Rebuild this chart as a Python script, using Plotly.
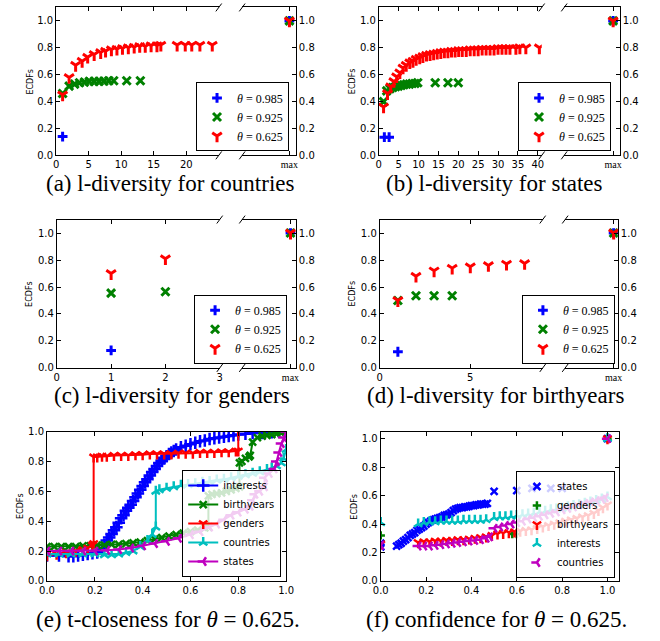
import plotly.graph_objects as go

# ---------------- data ----------------
theta_labels = ['0.985', '0.925', '0.625']
max_cat = ['max']
max_y = [1.0]
yticks = [0.0, 0.2, 0.4, 0.6, 0.8, 1.0]

# (a) l-diversity for countries
a_985_x = [1]
a_985_y = [0.14]
a_925_x = [1, 2, 2.85, 3.6, 4.35, 5.1, 5.85, 6.6, 7.35, 8.1, 8.85, 10.85, 12.95]
a_925_y = [0.46, 0.515, 0.53, 0.54, 0.545, 0.55, 0.55, 0.55, 0.552, 0.555, 0.555, 0.555, 0.555]
a_625_x = [1, 2, 3, 4, 4.85, 5.85, 6.85, 7.6, 8.5, 9.35, 10.2, 11.1, 12, 12.85, 13.7, 14.6,
           15.5, 16.1, 18.6, 19.85, 20.85, 22.1, 24]
a_625_y = [0.45, 0.58, 0.67, 0.70, 0.73, 0.75, 0.765, 0.775, 0.785, 0.79, 0.795, 0.80, 0.805,
           0.81, 0.81, 0.815, 0.815, 0.82, 0.82, 0.82, 0.82, 0.82, 0.82]

# (b) l-diversity for states
b_985_x = [1.4, 2.6]
b_985_y = [0.135, 0.135]
b_925_x = [1.2, 2.0, 2.8, 3.5, 4.2, 4.9, 5.6, 6.3, 7.0, 7.7, 8.4, 9.1, 9.8, 14.2, 17.4, 20.0]
b_925_y = [0.40, 0.48, 0.495, 0.505, 0.51, 0.515, 0.52, 0.525, 0.53, 0.53, 0.535, 0.535, 0.54,
           0.54, 0.54, 0.54]
b_625_x = [1.2, 2.2, 3.0, 3.8, 4.5, 5.3, 6.1, 6.9, 7.8, 8.6, 9.4, 10.3, 11.1, 12.0, 12.9, 13.8,
           14.7, 15.6, 16.5, 17.4, 18.3, 19.2, 20.1, 21.0, 22.0, 23.0, 24.0, 25.0, 26.0, 27.0,
           28.0, 29.0, 30.0, 31.0, 32.0, 33.0, 34.5, 35.5, 37.0, 40.4]
b_625_y = [0.36, 0.46, 0.51, 0.55, 0.585, 0.615, 0.65, 0.67, 0.69, 0.70, 0.715, 0.725, 0.735,
           0.745, 0.75, 0.755, 0.76, 0.765, 0.77, 0.77, 0.775, 0.775, 0.78, 0.78, 0.78, 0.785,
           0.785, 0.785, 0.79, 0.79, 0.79, 0.79, 0.795, 0.795, 0.795, 0.795, 0.795, 0.80, 0.80, 0.80]

# (c) l-diversity for genders
c_985_x = [1]
c_985_y = [0.13]
c_925_x = [1, 2]
c_925_y = [0.555, 0.565]
c_625_x = [1, 2]
c_625_y = [0.70, 0.81]

# (d) l-diversity for birthyears
d_985_x = [1]
d_985_y = [0.12]
d_925_x = [1, 2, 3, 4]
d_925_y = [0.50, 0.535, 0.535, 0.535]
d_625_x = [1, 2, 3, 4, 5, 6, 7, 8]
d_625_y = [0.50, 0.68, 0.72, 0.74, 0.75, 0.76, 0.77, 0.775]

# (e) t-closeness for theta = 0.625
e_names = ['interests', 'birthyears', 'genders', 'countries', 'states']
e_int_x = [0.00, 0.05, 0.09, 0.11, 0.13, 0.15, 0.17, 0.19, 0.21, 0.23,
           0.24, 0.25, 0.26, 0.27, 0.28, 0.29, 0.30, 0.31, 0.32, 0.33, 0.34, 0.35, 0.36, 0.37,
           0.38, 0.39, 0.40, 0.41, 0.42, 0.43, 0.44, 0.45, 0.46, 0.47, 0.48, 0.49, 0.50, 0.51,
           0.52, 0.53, 0.54, 0.56, 0.58, 0.60, 0.62, 0.64, 0.66, 0.68, 0.70, 0.72, 0.74, 0.76,
           0.78, 0.80, 0.83, 0.86, 0.90, 0.94, 0.97, 1.00]
e_int_y = [0.17, 0.17, 0.165, 0.165, 0.17, 0.175, 0.18, 0.185, 0.19, 0.21,
           0.24, 0.27, 0.29, 0.315, 0.34, 0.36, 0.39, 0.42, 0.44, 0.47, 0.49, 0.51, 0.535, 0.56,
           0.585, 0.61, 0.635, 0.66, 0.68, 0.705, 0.73, 0.75, 0.77, 0.79, 0.805, 0.82, 0.835,
           0.85, 0.86, 0.87, 0.88, 0.895, 0.905, 0.915, 0.925, 0.935, 0.94, 0.95, 0.955, 0.96,
           0.965, 0.97, 0.975, 0.98, 0.985, 0.99, 0.99, 0.995, 1.0, 1.0]
e_by_x = [0.00, 0.03, 0.06, 0.09, 0.12, 0.15, 0.18, 0.21, 0.24, 0.27, 0.30, 0.33, 0.36, 0.39,
          0.42, 0.45, 0.48, 0.51, 0.54, 0.57, 0.60, 0.63, 0.66, 0.675, 0.675, 0.69, 0.71, 0.73,
          0.75, 0.77, 0.79, 0.805, 0.805, 0.815, 0.83, 0.845, 0.85, 0.86, 0.88, 0.90, 0.92,
          0.94, 0.96, 0.98, 1.00]
e_by_y = [0.23, 0.23, 0.23, 0.23, 0.23, 0.235, 0.235, 0.24, 0.24, 0.245, 0.245, 0.25, 0.255,
          0.26, 0.27, 0.28, 0.29, 0.30, 0.31, 0.32, 0.33, 0.34, 0.355, 0.36, 0.57, 0.58, 0.585,
          0.59, 0.60, 0.61, 0.62, 0.63, 0.79, 0.80, 0.82, 0.83, 0.84, 0.93, 0.96, 0.97, 0.975,
          0.98, 0.985, 0.99, 1.0]
e_gen_x = [0.00, 0.04, 0.08, 0.12, 0.15, 0.17, 0.19, 0.195, 0.195, 0.21, 0.23, 0.25, 0.28,
           0.31, 0.34, 0.37, 0.40, 0.43, 0.46, 0.49, 0.52, 0.55, 0.58, 0.61, 0.64, 0.67, 0.70,
           0.73, 0.76, 0.79, 0.80, 0.80]
e_gen_y = [0.17, 0.18, 0.19, 0.20, 0.21, 0.22, 0.24, 0.25, 0.83, 0.83, 0.835, 0.835, 0.84,
           0.84, 0.84, 0.845, 0.845, 0.85, 0.85, 0.85, 0.85, 0.855, 0.855, 0.855, 0.86, 0.86,
           0.86, 0.865, 0.865, 0.87, 0.87, 1.0]
e_cty_x = [0.00, 0.05, 0.10, 0.15, 0.20, 0.24, 0.27, 0.30, 0.33, 0.36, 0.39, 0.42, 0.44,
           0.455, 0.455, 0.47, 0.50, 0.53, 0.56, 0.59, 0.62, 0.65, 0.68, 0.71, 0.74, 0.77, 0.80,
           0.83, 0.86, 0.89, 0.92, 0.94, 0.96, 0.98, 0.99, 1.00]
e_cty_y = [0.18, 0.18, 0.18, 0.18, 0.18, 0.175, 0.175, 0.18, 0.19, 0.20, 0.23, 0.27, 0.31,
           0.36, 0.60, 0.61, 0.62, 0.63, 0.64, 0.645, 0.65, 0.66, 0.665, 0.675, 0.68, 0.69,
           0.70, 0.71, 0.72, 0.73, 0.745, 0.755, 0.77, 0.79, 0.82, 0.88]
e_st_x = [0.00, 0.05, 0.10, 0.15, 0.20, 0.25, 0.30, 0.35, 0.40, 0.45, 0.50, 0.55, 0.60, 0.64,
          0.68, 0.71, 0.74, 0.77, 0.80, 0.83, 0.85, 0.86, 0.87, 0.89, 0.91, 0.91, 0.93, 0.95,
          0.96, 0.97, 0.98, 0.99, 1.00]
e_st_y = [0.20, 0.20, 0.20, 0.20, 0.20, 0.205, 0.21, 0.22, 0.235, 0.25, 0.265, 0.285, 0.31,
          0.33, 0.36, 0.38, 0.41, 0.44, 0.46, 0.48, 0.50, 0.54, 0.58, 0.60, 0.63, 0.69, 0.72,
          0.75, 0.80, 0.86, 0.92, 0.96, 1.0]

# (f) confidence for theta = 0.625
f_names = ['states', 'genders', 'birthyears', 'interests', 'countries']
f_st_x = [0.0, 0.0, 0.07, 0.08, 0.09, 0.10, 0.11, 0.12, 0.13, 0.14, 0.15, 0.16, 0.17, 0.18,
          0.19, 0.20, 0.21, 0.22, 0.23, 0.24, 0.25, 0.26, 0.27, 0.28, 0.29, 0.30, 0.31, 0.32,
          0.33, 0.34, 0.35, 0.36, 0.37, 0.38, 0.39, 0.40, 0.41, 0.42, 0.43, 0.44, 0.45, 0.46,
          0.47, 0.50, 0.60, 0.667, 0.75, 0.80, 1.0]
f_st_y = [0.24, 0.265, 0.245, 0.255, 0.265, 0.28, 0.29, 0.305, 0.32, 0.33, 0.34, 0.355, 0.365,
          0.375, 0.385, 0.40, 0.41, 0.42, 0.43, 0.435, 0.44, 0.445, 0.45, 0.46, 0.465, 0.47,
          0.48, 0.495, 0.505, 0.51, 0.515, 0.515, 0.52, 0.52, 0.525, 0.53, 0.53, 0.535, 0.535,
          0.54, 0.54, 0.54, 0.545, 0.63, 0.635, 0.65, 0.65, 0.65, 1.0]
f_gen_x = [0.0, 0.58, 0.60, 1.0]
f_gen_y = [0.32, 0.33, 0.33, 1.0]
f_by_x = [0.0, 0.165, 0.19, 0.215, 0.24, 0.265, 0.29, 0.315, 0.34, 0.365, 0.39, 0.415, 0.44,
          0.465, 0.49, 0.515, 0.54, 0.565, 0.59, 0.615, 0.64, 0.665, 0.69, 0.715, 0.74, 0.765,
          0.79, 0.815, 0.84, 0.865, 0.89, 0.915, 0.94, 0.96, 0.98, 1.0, 1.0]
f_by_y = [0.26, 0.27, 0.275, 0.275, 0.28, 0.28, 0.285, 0.285, 0.29, 0.29, 0.295, 0.30, 0.305,
          0.31, 0.32, 0.33, 0.335, 0.34, 0.345, 0.35, 0.355, 0.36, 0.37, 0.38, 0.39, 0.40, 0.41,
          0.42, 0.43, 0.44, 0.45, 0.46, 0.475, 0.495, 0.515, 0.535, 1.0]
f_int_x = [0.0, 0.165, 0.19, 0.215, 0.24, 0.265, 0.29, 0.315, 0.34, 0.365, 0.39, 0.415, 0.44,
           0.465, 0.5, 0.525, 0.55, 0.575, 0.6, 0.625, 0.65, 0.675, 0.7, 0.725, 0.75, 0.775,
           0.8, 0.825, 0.85, 0.875, 0.9, 0.925, 0.95, 0.975, 1.0, 1.0]
f_int_y = [0.41, 0.40, 0.41, 0.415, 0.415, 0.42, 0.42, 0.42, 0.42, 0.425, 0.425, 0.425, 0.425,
           0.43, 0.445, 0.45, 0.45, 0.455, 0.46, 0.465, 0.47, 0.475, 0.485, 0.49, 0.50, 0.505,
           0.51, 0.52, 0.53, 0.535, 0.545, 0.555, 0.565, 0.575, 0.59, 1.0]
f_cty_x = [0.0, 0.165, 0.19, 0.215, 0.24, 0.265, 0.29, 0.315, 0.34, 0.365, 0.39, 0.415, 0.44,
           0.465, 0.48, 0.5, 0.525, 0.55, 0.575, 0.6, 0.625, 0.65, 0.675, 0.7, 0.725, 0.75,
           0.775, 0.8, 0.825, 0.85, 0.875, 0.9, 0.925, 0.95, 0.975, 0.99, 1.0]
f_cty_y = [0.25, 0.245, 0.245, 0.245, 0.25, 0.255, 0.26, 0.265, 0.27, 0.275, 0.28, 0.285, 0.29,
           0.30, 0.31, 0.37, 0.38, 0.39, 0.40, 0.41, 0.42, 0.435, 0.445, 0.455, 0.465, 0.475,
           0.485, 0.50, 0.51, 0.52, 0.535, 0.545, 0.555, 0.565, 0.575, 0.585, 1.0]

for _x, _y in [(a_925_x, a_925_y), (a_625_x, a_625_y), (b_925_x, b_925_y), (b_625_x, b_625_y),
               (e_int_x, e_int_y), (e_by_x, e_by_y), (e_gen_x, e_gen_y), (e_cty_x, e_cty_y),
               (e_st_x, e_st_y), (f_st_x, f_st_y), (f_by_x, f_by_y), (f_int_x, f_int_y),
               (f_cty_x, f_cty_y)]:
    assert len(_x) == len(_y), (len(_x), len(_y))

# ---------------- styling / layout helpers ----------------
BLUE, GREEN, RED, CYAN, MAGENTA = '#0000ff', '#008000', '#ff0000', '#00bfbf', '#bf00bf'
W, H = 660, 641


def fx(p):
    return p / W


def fy(p):
    return 1 - p / H


def axid(i):
    return '' if i == 1 else str(i)


TICKFONT = dict(family='DejaVu Sans', size=10, color='black')
CAPFONT = dict(family='Liberation Serif', size=23, color='black')


def axis(**kw):
    d = dict(showline=True, linecolor='black', linewidth=1, ticks='inside', ticklen=4,
             tickwidth=1, tickcolor='black', showgrid=False, zeroline=False, tickfont=TICKFONT)
    d.update(kw)
    return d


fig = go.Figure()
layout = dict(width=W, height=H, margin=dict(l=0, r=0, t=0, b=0), paper_bgcolor='white',
              plot_bgcolor='white', font=dict(family='DejaVu Sans', color='black'),
              hovermode=False)
shapes, annotations = [], []

th_symbols = ['cross-thin', 'x-thin', 'y-down']
th_colors = [BLUE, GREEN, RED]
th_sizes = [7, 8, 8]

broken = [
    dict(series=[(a_985_x, a_985_y), (a_925_x, a_925_y), (a_625_x, a_625_y)], xrange=[0, 25],
         xticks=[0, 5, 10, 15, 20], left=(49.3, 216), right=(240, 295), top=2.5, bottom=153,
         mf=0.88, leg=(288, 149), cap='(a) l-diversity for countries', capxy=(166, 182), ylx=22.7),
    dict(series=[(b_985_x, b_985_y), (b_925_x, b_925_y), (b_625_x, b_625_y)], xrange=[0, 41],
         xticks=[0, 5, 10, 15, 20, 25, 30, 35, 40], left=(380, 547), right=(570, 627), top=2.5,
         bottom=153, mf=0.88, leg=(618, 149), cap='(b) l-diversity for states', capxy=(499, 182),
         ylx=353.3),
    dict(series=[(c_985_x, c_985_y), (c_925_x, c_925_y), (c_625_x, c_625_y)], xrange=[0, 3],
         xticks=[0, 1, 2, 3], left=(50, 217), right=(240, 295), top=218.3, bottom=369.3,
         mf=0.9, leg=(286, 365), cap='(c) l-diversity for genders', capxy=(168, 397), ylx=22.7),
    dict(series=[(d_985_x, d_985_y), (d_925_x, d_925_y), (d_625_x, d_625_y)], xrange=[0, 9],
         xticks=[0, 5], left=(381, 548), right=(571, 625), top=218.3, bottom=369.3,
         mf=0.92, leg=(622, 365), cap='(d) l-diversity for birthyears', capxy=(500, 397),
         ylx=353.3),
]

for k, p in enumerate(broken):
    L, R = 2 * k + 1, 2 * k + 2
    leg = 'legend' if k == 0 else f'legend{k + 1}'
    for j, ((xs, ys), th) in enumerate(zip(p['series'], theta_labels)):
        fig.add_trace(go.Scatter(
            x=xs, y=ys, mode='markers', name=f'<i>θ</i> = {th}', legend=leg,
            marker=dict(symbol=th_symbols[j], color=th_colors[j], size=th_sizes[j],
                        line=dict(color=th_colors[j], width=3)),
            xaxis='x' + axid(L), yaxis='y' + axid(L)))
    for j in range(3):
        fig.add_trace(go.Scatter(
            x=max_cat, y=max_y, mode='markers', showlegend=False,
            marker=dict(symbol=th_symbols[j], color=th_colors[j], size=th_sizes[j],
                        line=dict(color=th_colors[j], width=3)),
            xaxis='x' + axid(R), yaxis='y' + axid(R)))
    l0, l1 = p['left']
    r0, r1 = p['right']
    top, bot = p['top'], p['bottom']
    layout['xaxis' + axid(L)] = axis(domain=[fx(l0), fx(l1)], anchor='y' + axid(L),
                                     range=p['xrange'], tickvals=p['xticks'], mirror='ticks')
    layout['yaxis' + axid(L)] = axis(domain=[fy(bot), fy(top)], anchor='x' + axid(L),
                                     range=[0, 1.1], tickvals=yticks, tickformat='.1f')
    layout['xaxis' + axid(R)] = axis(domain=[fx(r0), fx(r1)], anchor='y' + axid(R),
                                     type='category', range=[-p['mf'], 1 - p['mf']],
                                     mirror='ticks',
                                     tickfont=dict(family='Liberation Serif', size=10, color='black'))
    layout['yaxis' + axid(R)] = axis(domain=[fy(bot), fy(top)], anchor='x' + axid(R),
                                     side='right', range=[0, 1.1], tickvals=yticks,
                                     tickformat='.1f')
    layout[leg] = dict(x=fx(p['leg'][0]), xanchor='right', y=fy(p['leg'][1]), yanchor='bottom',
                       bgcolor='white', bordercolor='black', borderwidth=1,
                       font=dict(family='Liberation Serif', size=12, color='black'))
    # broken-axis diagonal marks
    for xb in (l1, r0):
        for yb in (top, bot):
            shapes.append(dict(type='line', xref='paper', yref='paper',
                               x0=fx(xb - 3), y0=fy(yb + 4), x1=fx(xb + 3), y1=fy(yb - 4),
                               line=dict(color='black', width=1)))
    annotations.append(dict(text=p['cap'], x=fx(p['capxy'][0]), y=fy(p['capxy'][1]),
                            xref='paper', yref='paper', showarrow=False, xanchor='center',
                            yanchor='middle', font=CAPFONT))
    annotations.append(dict(text='ECDFs', x=fx(p['ylx']), y=fy((top + bot) / 2), xref='paper',
                            yref='paper', showarrow=False, textangle=-90, xanchor='center',
                            yanchor='middle',
                            font=dict(family='DejaVu Sans', size=8, color='black')))

# ---------------- (e) ----------------
e_series = [(e_int_x, e_int_y), (e_by_x, e_by_y), (e_gen_x, e_gen_y), (e_cty_x, e_cty_y),
            (e_st_x, e_st_y)]
e_symbols = ['cross-thin', 'x-thin', 'y-down', 'y-up', 'y-left']
e_colors = [BLUE, GREEN, RED, CYAN, MAGENTA]
e_msizes = [9, 7, 7, 7, 7]
for (xs, ys), nm, sym, col, ms in zip(e_series, e_names, e_symbols, e_colors, e_msizes):
    fig.add_trace(go.Scatter(
        x=xs, y=ys, mode='lines+markers', name=nm, legend='legend5',
        line=dict(color=col, width=2),
        marker=dict(symbol=sym, color=col, size=ms, line=dict(color=col, width=2.5)),
        xaxis='x9', yaxis='y9'))
tick01 = [0.0, 0.2, 0.4, 0.6, 0.8, 1.0]
layout['xaxis9'] = axis(domain=[fx(40), fx(285)], anchor='y9', range=[0, 1], tickvals=tick01,
                        tickformat='.1f', mirror='ticks')
layout['yaxis9'] = axis(domain=[fy(586), fy(434)], anchor='x9', range=[0, 1], tickvals=tick01,
                        tickformat='.1f', mirror='ticks')
layout['legend5'] = dict(x=fx(280), xanchor='right', y=fy(582), yanchor='bottom',
                         bgcolor='rgba(255,255,255,0.8)', bordercolor='black', borderwidth=1,
                         font=dict(family='DejaVu Sans', size=10, color='black'))
annotations.append(dict(text='(e) t-closeness for <i>θ</i> = 0.625.', x=fx(164), y=fy(625),
                        xref='paper', yref='paper', showarrow=False, xanchor='center',
                        yanchor='middle', font=CAPFONT))
annotations.append(dict(text='ECDFs', x=fx(13), y=fy(510), xref='paper', yref='paper',
                        showarrow=False, textangle=-90, xanchor='center', yanchor='middle',
                        font=dict(family='DejaVu Sans', size=8, color='black')))

# ---------------- (f) ----------------
f_series = [(f_st_x, f_st_y), (f_gen_x, f_gen_y), (f_by_x, f_by_y), (f_int_x, f_int_y),
            (f_cty_x, f_cty_y)]
f_symbols = ['x-thin', 'cross-thin', 'y-down', 'y-up', 'y-left']
f_colors = [BLUE, GREEN, RED, CYAN, MAGENTA]
f_sizes = [7, 6, 7, 7, 7]
for (xs, ys), nm, sym, col, sz in zip(f_series, f_names, f_symbols, f_colors, f_sizes):
    fig.add_trace(go.Scatter(
        x=xs, y=ys, mode='markers', name=nm, legend='legend6',
        marker=dict(symbol=sym, color=col, size=sz, line=dict(color=col, width=2.5)),
        xaxis='x10', yaxis='y10'))
layout['xaxis10'] = axis(domain=[fx(382), fx(626)], anchor='y10', range=[0, 1.05],
                         tickvals=tick01, tickformat='.1f', mirror='ticks')
layout['yaxis10'] = axis(domain=[fy(586), fy(434)], anchor='x10', range=[0, 1.05],
                         tickvals=tick01, tickformat='.1f', mirror='ticks')
layout['legend6'] = dict(x=fx(622), xanchor='right', y=fy(583), yanchor='bottom',
                         bgcolor='rgba(255,255,255,0.8)', bordercolor='black', borderwidth=1,
                         font=dict(family='DejaVu Sans', size=10, color='black'))
annotations.append(dict(text='(f) confidence for <i>θ</i> = 0.625.', x=fx(501), y=fy(625),
                        xref='paper', yref='paper', showarrow=False, xanchor='center',
                        yanchor='middle', font=CAPFONT))
annotations.append(dict(text='ECDFs', x=fx(355), y=fy(510), xref='paper', yref='paper',
                        showarrow=False, textangle=-90, xanchor='center', yanchor='middle',
                        font=dict(family='DejaVu Sans', size=8, color='black')))

layout['shapes'] = shapes
layout['annotations'] = annotations
fig.update_layout(**layout)
fig.write_html("out.html", config={'displayModeBar': False},
               post_script="document.body.style.margin='0px';document.body.style.overflow='hidden';")
